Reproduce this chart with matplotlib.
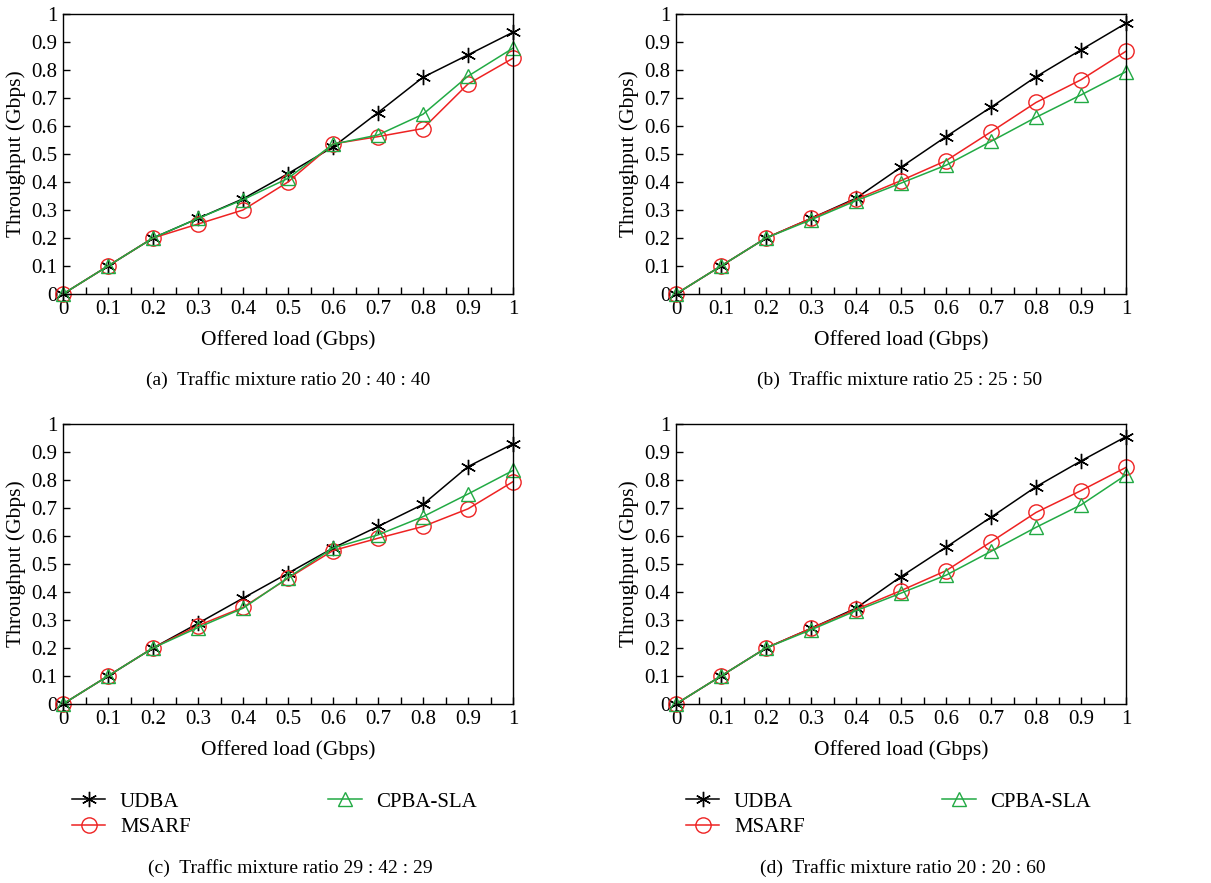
import matplotlib
matplotlib.use("Agg")
import matplotlib.pyplot as plt
from matplotlib.ticker import MultipleLocator

plt.rcParams['font.family'] = ['Liberation Serif', 'DejaVu Serif']

offered_load = [0, 0.1, 0.2, 0.3, 0.4, 0.5, 0.6, 0.7, 0.8, 0.9, 1.0]
x_tick_labels = ["0", "0.1", "0.2", "0.3", "0.4", "0.5", "0.6", "0.7", "0.8", "0.9", "1"]
y_tick_labels = ["0", "0.1", "0.2", "0.3", "0.4", "0.5", "0.6", "0.7", "0.8", "0.9", "1"]
series_names = ["UDBA", "MSARF", "CPBA-SLA"]

# (a) 20:40:40
udba_a = [0, 0.10, 0.20, 0.27, 0.34, 0.43, 0.525, 0.648, 0.774, 0.854, 0.935]
msarf_a = [0, 0.10, 0.20, 0.25, 0.30, 0.40, 0.536, 0.562, 0.591, 0.75, 0.842]
cpba_a = [0, 0.10, 0.20, 0.27, 0.337, 0.413, 0.535, 0.568, 0.642, 0.778, 0.878]
# (b) 25:25:50
udba_b = [0, 0.10, 0.20, 0.27, 0.342, 0.453, 0.562, 0.667, 0.776, 0.872, 0.967]
msarf_b = [0, 0.10, 0.20, 0.27, 0.338, 0.405, 0.476, 0.579, 0.684, 0.765, 0.867]
cpba_b = [0, 0.10, 0.20, 0.265, 0.333, 0.396, 0.46, 0.545, 0.631, 0.711, 0.794]
# (c) 29:42:29
udba_c = [0, 0.10, 0.20, 0.288, 0.378, 0.467, 0.557, 0.634, 0.713, 0.848, 0.929]
msarf_c = [0, 0.10, 0.20, 0.28, 0.345, 0.449, 0.548, 0.592, 0.634, 0.697, 0.794]
cpba_c = [0, 0.10, 0.20, 0.273, 0.342, 0.451, 0.557, 0.604, 0.669, 0.75, 0.834]
# (d) 20:20:60
udba_d = [0, 0.10, 0.20, 0.27, 0.342, 0.455, 0.56, 0.667, 0.776, 0.868, 0.955]
msarf_d = [0, 0.10, 0.20, 0.27, 0.338, 0.405, 0.476, 0.579, 0.684, 0.762, 0.845]
cpba_d = [0, 0.10, 0.20, 0.265, 0.333, 0.396, 0.46, 0.545, 0.631, 0.711, 0.818]

captions = ["(a)  Traffic mixture ratio 20 : 40 : 40",
            "(b)  Traffic mixture ratio 25 : 25 : 50",
            "(c)  Traffic mixture ratio 29 : 42 : 29",
            "(d)  Traffic mixture ratio 20 : 20 : 60"]

panels = [(udba_a, msarf_a, cpba_a), (udba_b, msarf_b, cpba_b),
          (udba_c, msarf_c, cpba_c), (udba_d, msarf_d, cpba_d)]

W, H = 1211, 883
fig = plt.figure(figsize=(W / 100, H / 100), dpi=100)

# axes boxes in pixel coords: left, top, right, bottom
boxes = [(63, 14, 513, 294), (676, 14, 1126, 294),
         (63, 424, 513, 704), (676, 424, 1126, 704)]

colors = ["black", "#ee2222", "#22aa44"]
markers = [(6, 2, 0), "o", "^"]
msizes = [11, 11, 10]

axes = []
for i, (box, data) in enumerate(zip(boxes, panels)):
    l, t, r, b = box
    ax = fig.add_axes([l / W, 1 - b / H, (r - l) / W, (b - t) / H])
    for y, c, m, ms, name in zip(data, colors, markers, msizes, series_names):
        ax.plot(offered_load, y, color=c, lw=1.1, marker=m, ms=ms,
                mfc='none', mec=c, mew=1.0, label=name, clip_on=False)
    ax.set_xlim(0, 1)
    ax.set_ylim(0, 1)
    ax.set_xticks(offered_load)
    ax.set_xticklabels(x_tick_labels)
    ax.set_yticks(offered_load)
    ax.set_yticklabels(y_tick_labels)
    ax.xaxis.set_minor_locator(MultipleLocator(0.05))
    ax.tick_params(axis='both', which='both', direction='in', top=False, right=False,
                   labelsize=15, pad=4)
    ax.tick_params(axis='both', which='major', length=5, width=1)
    ax.tick_params(axis='x', which='minor', length=5, width=1)
    for s in ax.spines.values():
        s.set_linewidth(1.0)
    ax.set_xlabel("Offered load (Gbps)", fontsize=15.5, labelpad=8)
    ax.set_ylabel("Throughput (Gbps)", fontsize=15.5, labelpad=4)
    axes.append(ax)

# captions
fig.text(288 / W, 1 - 380 / H, captions[0], ha='center', va='center', fontsize=14)
fig.text(900 / W, 1 - 380 / H, captions[1], ha='center', va='center', fontsize=14)
fig.text(290 / W, 1 - 868 / H, captions[2], ha='center', va='center', fontsize=14)
fig.text(903 / W, 1 - 868 / H, captions[3], ha='center', va='center', fontsize=14)

# legends below bottom panels
for ax, x0 in [(axes[2], 72), (axes[3], 686)]:
    handles, labels = ax.get_legend_handles_labels()
    fig.legend(handles, labels,
               loc='upper left', bbox_to_anchor=(x0 / W, 1 - 792 / H),
               ncol=2, frameon=False, fontsize=15, handlelength=1.6,
               handletextpad=0.7, columnspacing=6.6, labelspacing=0.3,
               borderaxespad=0, borderpad=0)

fig.savefig("out.png", dpi=100)
